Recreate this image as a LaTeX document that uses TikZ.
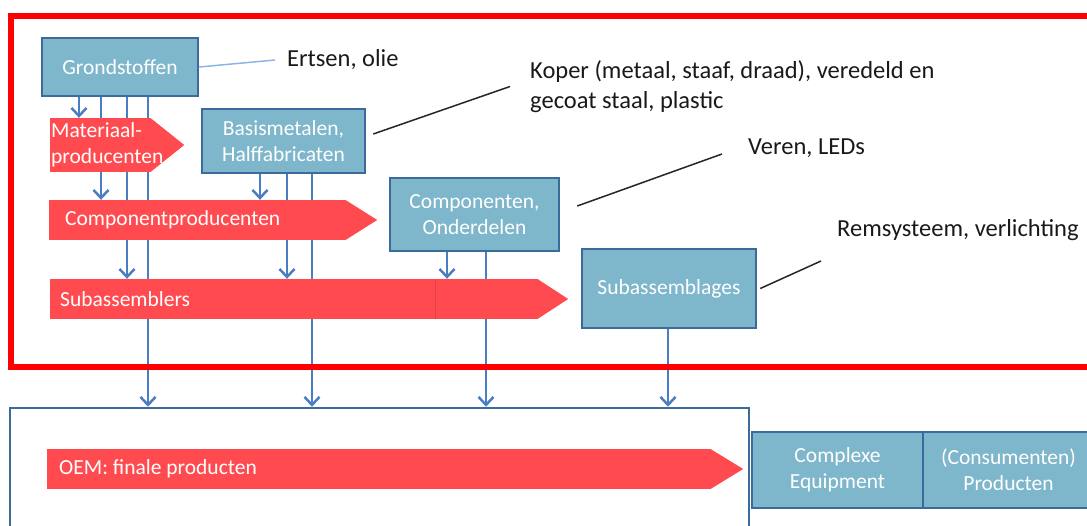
\documentclass[tikz,border=0pt]{standalone}
\usepackage{fontspec}
\setmainfont{Carlito}
\usetikzlibrary{arrows.meta,backgrounds}
\definecolor{boxfill}{HTML}{7EB6CB}
\definecolor{boxline}{HTML}{3C6A9A}
\definecolor{feedblue}{HTML}{4A7EC3}
\definecolor{chevred}{HTML}{FF4B4F}
\definecolor{callblue}{HTML}{8EB4E3}
\tikzset{
  stage/.style={draw=boxline, line width=2.5pt, fill=boxfill, text=white,
    align=center, inner sep=0pt, font=\fontsize{21.5}{26}\selectfont},
  chev/.style={fill=chevred, inner sep=0pt},
  chevtxt/.style={anchor=west, text=white, align=left, inner sep=0pt,
    font=\fontsize{21.5}{26}\selectfont},
  note/.style={anchor=west, align=left, inner sep=0pt, text=black!90,
    font=\fontsize{24.5}{29.5}\selectfont},
  feed/.style={draw=feedblue, line width=2.5pt, -{Straight Barb[length=8pt,width=15pt]}},
  callout/.style={draw=black!85, line width=1.5pt},
}
\begin{document}
\begin{tikzpicture}[x=1pt, y=-1pt]
  \useasboundingbox (0,0) rectangle (1087,525);
  \clip (0,0) rectangle (1087,525);

  % stages (blue boxes)
  \node[stage, minimum width=156pt, minimum height=58pt] (grond) at (120,67) {Grondstoffen};
  \node[stage, minimum width=163pt, minimum height=64pt] (basis) at (283.5,141) {Basismetalen,\\Halffabricaten};
  \node[stage, minimum width=169pt, minimum height=73pt] (comp) at (474.5,214.5) {Componenten,\\Onderdelen};
  \node[stage, minimum width=174pt, minimum height=79pt] (subblg) at (669,288.5) {Subassemblages};

  % producers (red chevrons)
  \node[chev, minimum width=100pt, minimum height=54pt] (matprod) at (100,145) {};
  \fill[chevred] (matprod.north east) -- ([xshift=34pt]matprod.east) -- (matprod.south east) -- cycle;
  \node[chevtxt] (matprodtxt) at (51,145) {Materiaal-\\producenten};

  \node[chev, minimum width=296pt, minimum height=40pt] (compprod) at (197,220) {};
  \fill[chevred] (compprod.north east) -- ([xshift=32pt]compprod.east) -- (compprod.south east) -- cycle;
  \node[chevtxt] (compprodtxt) at (65,220) {Componentproducenten};

  \node[chev, minimum width=487pt, minimum height=40pt] (subasm) at (293.5,299) {};
  \fill[chevred] (subasm.north east) -- ([xshift=31pt]subasm.east) -- (subasm.south east) -- cycle;
  \draw[chevred!88!black, line width=1pt] (subasm.north -| 435,0) -- (subasm.south -| 435,0);
  \node[chevtxt] (subasmtxt) at (60,299) {Subassemblers};

  % OEM
  \node[draw=boxline, line width=2.5pt, minimum width=739pt, minimum height=160pt] (oem) at (379.5,488) {};
  \node[chev, minimum width=663pt, minimum height=40pt] (oemprod) at (378.5,469) {};
  \fill[chevred] (oemprod.north east) -- ([xshift=33pt]oemprod.east) -- (oemprod.south east) -- cycle;
  \node[chevtxt] (oemprodtxt) at (59,469) {OEM: finale producten};
  \node[stage, minimum width=171pt, minimum height=76pt] (complex) at (837.5,470) {Complexe\\Equipment};
  \node[stage, minimum width=171pt, minimum height=76pt] (consum) at (1008.5,470) {(Consumenten)\\Producten};

  % notes
  \node[note] (ertsen) at (287,60) {Ertsen, olie};
  \node[note] (koper) at (530,86.5) {Koper (metaal, staaf, draad), veredeld en\\gecoat staal, plastic};
  \node[note] (veren) at (748,148) {Veren, LEDs};
  \node[note] (rem) at (837,230) {Remsysteem, verlichting};

  \draw[draw=callblue, line width=1.5pt] (grond.east) -- ([xshift=-12pt]ertsen.west);
  \draw[callout] ([xshift=7pt,yshift=7pt]basis.east) -- ([xshift=-20pt]koper.west);
  \draw[callout] ([xshift=17pt,yshift=8.5pt]comp.east) -- ([xshift=-26pt,yshift=-6pt]veren.west);
  \draw[callout] ([xshift=3pt]subblg.east) -- ([xshift=-16pt,yshift=-31pt]rem.west);

  % material flows
  \begin{pgfonlayer}{background}
    \foreach \x/\dest in {79/matprod, 101/compprod, 127/subasm, 148/oem}
      \draw[feed] (grond.south -| \x,0) -- (\dest.north -| \x,0);
    \foreach \x/\dest in {260/compprod, 287/subasm, 312/oem}
      \draw[feed] (basis.south -| \x,0) -- (\dest.north -| \x,0);
    \foreach \x/\dest in {447/subasm, 486/oem}
      \draw[feed] (comp.south -| \x,0) -- (\dest.north -| \x,0);
    \draw[feed] (subblg.south -| 668,0) -- (oem.north -| 668,0);
  \end{pgfonlayer}

  % supply chain frame
  \draw[red, line width=6pt] (10.5,15.5) rectangle (1100,367);
\end{tikzpicture}
\end{document}
